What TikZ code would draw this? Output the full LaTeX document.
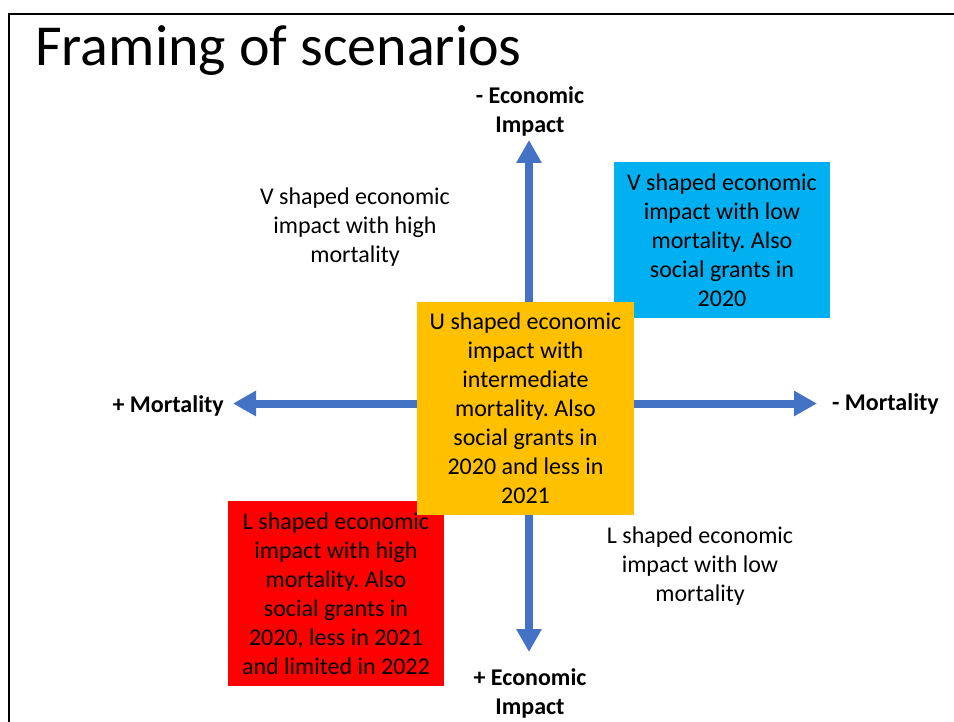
\documentclass[tikz,border=0pt]{standalone}
\usepackage{fontspec}
\setmainfont{Carlito}
\usetikzlibrary{arrows.meta}
\frenchspacing
\definecolor{axisblue}{HTML}{4472C4}
\definecolor{boxblue}{HTML}{00B0F0}
\definecolor{boxyellow}{HTML}{FFC000}
\definecolor{boxred}{HTML}{FF0000}
\tikzset{
  axis/.style={draw=axisblue, line width=8pt, {Triangle[length=23pt,width=24pt]}-{Triangle[length=23pt,width=24pt]}},
  scenbox/.style={minimum width=216pt, inner sep=0pt, align=center, font=\fontsize{24}{29}\selectfont, text=black},
  plain/.style={align=center, inner sep=0pt, font=\fontsize{24}{29}\selectfont},
  axlabel/.style={align=center, inner sep=0pt, font=\fontsize{24}{29}\selectfont\bfseries},
}
\begin{document}
\begin{tikzpicture}[x=1pt,y=-1pt]
\useasboundingbox (0,0) rectangle (954,722);
% frame
\draw[line width=2.6pt] (9,722) -- (9,14) -- (954,14);
% title
\node[anchor=base west, inner sep=0pt, font=\fontsize{58}{60}\selectfont] (title) at (35,66) {Framing of scenarios};
% axes
\coordinate (top) at (529,140);
\coordinate (bot) at (529,652);
\coordinate (lft) at (233,403.5);
\coordinate (rgt) at (817,403.5);
\draw[axis] (bot) -- (top);
\draw[axis] (lft) -- (rgt);
% axis labels
\node[axlabel] (ecotop) at (530,111.5) {- Economic\\Impact};
\node[axlabel] (ecobot) at (530,693.5) {+ Economic\\Impact};
\node[axlabel, anchor=east] (mortl) at (224,406) {+ Mortality};
\node[axlabel, anchor=west] (mortr) at (832,404) {- Mortality};
% quadrant texts
\node[plain] (vhigh) at (355,227) {V shaped economic\\impact with high\\mortality};
\node[plain] (llow) at (700,566) {L shaped economic\\impact with low\\mortality};
% boxes
\node[scenbox, fill=boxblue, minimum width=216pt, minimum height=156pt] (vlow) at (722,240) {V shaped economic\\impact with low\\mortality. Also\\social grants in\\2020};
\node[scenbox, fill=boxred, minimum width=216pt, minimum height=185pt] (lhigh) at (336,593.5) {L shaped economic\\impact with high\\mortality. Also\\social grants in\\2020, less in 2021\\and limited in 2022};
\node[scenbox, fill=boxyellow, minimum width=217pt, minimum height=213pt] (umid) at (525.5,408.5) {U shaped economic\\impact with\\intermediate\\mortality. Also\\social grants in\\2020 and less in\\2021};
\end{tikzpicture}
\end{document}
